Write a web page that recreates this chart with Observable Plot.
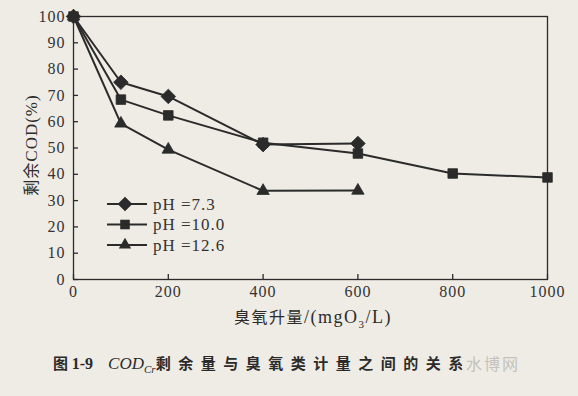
<!DOCTYPE html>
<html><head><meta charset="utf-8">
<script src="https://cdn.jsdelivr.net/npm/d3@7"></script>
<script src="https://cdn.jsdelivr.net/npm/@observablehq/plot@0.6"></script>
<style>
body{margin:0;background:#efece5;}
#wrap{position:relative;width:578px;height:396px;overflow:hidden;background:#efece5;color:#2b2b2b;}
#chart{position:absolute;left:0;top:0;}
#chart svg text{letter-spacing:1px;}
.ylab{position:absolute;left:30px;top:145px;transform:translate(-50%,-50%) rotate(-90deg);white-space:nowrap;font-size:16px;letter-spacing:1px;}
.xlab{position:absolute;left:313px;top:317px;transform:translate(-50%,-50%);white-space:nowrap;font-size:16px;}
.cjk{font-family:"Noto Sans CJK SC";}
.serif{font-family:"Liberation Serif";}
.caption{position:absolute;left:53px;top:352px;white-space:nowrap;font-size:15px;line-height:22px;}
.wm{position:absolute;left:466px;top:352px;font-family:"Noto Sans CJK SC";font-size:16px;color:#c4c2bd;letter-spacing:2px;line-height:22px;}
#legend{position:absolute;left:104px;top:193px;}
</style></head><body><div id="wrap"><div id="chart"></div></div>
<script>
// Data
const doseA = [0, 100, 200, 400, 600];
const codA  = [100, 75, 69.6, 51.3, 51.7];           // pH = 7.3
const doseB = [0, 100, 200, 400, 600, 800, 1000];
const codB  = [100, 68.4, 62.4, 52, 47.9, 40.3, 38.8]; // pH = 10.0
const doseC = [0, 100, 200, 400, 600];
const codC  = [100, 59.3, 49.4, 33.7, 33.8];          // pH = 12.6
const seriesNames = ["pH =7.3", "pH =10.0", "pH =12.6"];
const seriesSymbols = ["diamond2", "square", "triangle"];
const xTicks = [0, 200, 400, 600, 800, 1000];
const yTicks = [0, 10, 20, 30, 40, 50, 60, 70, 80, 90, 100];

const ink = "#2b2b2b";
const rows = (xs, ys, s) => xs.map((x, i) => ({dose: x, cod: ys[i], series: s}));
const A = rows(doseA, codA, seriesNames[0]);
const B = rows(doseB, codB, seriesNames[1]);
const C = rows(doseC, codC, seriesNames[2]);
const sizes = {diamond2: 6.6, square: 5.4, triangle: 4.6};

const marks = [
  Plot.frame({stroke: ink, strokeWidth: 1.3}),
  // inward tick marks
  Plot.axisX({ticks: xTicks, tickSize: 5, dy: -5, tickFormat: () => "", stroke: ink, strokeWidth: 1.3, label: null}),
  Plot.axisX({ticks: xTicks, tickSize: 0, tickPadding: 6, tickFormat: d => String(d), fill: "#333", label: null}),
  Plot.axisY({ticks: yTicks, tickSize: 5, dx: 5, tickFormat: () => "", stroke: ink, strokeWidth: 1.3, label: null}),
  Plot.axisY({ticks: yTicks, tickSize: 0, tickPadding: 8, tickFormat: d => String(d), fill: "#333", label: null})
];
[A, B, C].forEach((d, i) => {
  marks.push(Plot.line(d, {x: "dose", y: "cod", stroke: ink, strokeWidth: 2}));
  marks.push(Plot.dot(d, {x: "dose", y: "cod", symbol: seriesSymbols[i], r: sizes[seriesSymbols[i]], fill: ink, stroke: ink, strokeWidth: 0.8}));
});

const chart = Plot.plot({
  width: 578, height: 340,
  marginLeft: 73, marginRight: 31, marginTop: 16, marginBottom: 61,
  style: {fontFamily: "Liberation Serif", fontSize: "16px", background: "transparent", color: ink},
  x: {domain: [0, 1000], label: null},
  y: {domain: [0, 100], label: null},
  marks
});
document.getElementById("chart").appendChild(chart);

const wrap = document.getElementById("wrap");
wrap.insertAdjacentHTML("beforeend",
  `<div class="ylab"><span class="cjk">剩余</span><span class="serif" style="font-size:17px">COD(%)</span></div>
   <div class="xlab"><span class="cjk" style="letter-spacing:1.5px">臭氧升量</span><span class="serif" style="font-size:18px;letter-spacing:1.5px">/(mgO<sub style="font-size:11px">3</sub>/L)</span></div>
   <div class="caption"><span class="cjk" style="font-weight:700">图</span> <span class="serif" style="font-weight:700;font-size:16px">1-9</span>&nbsp;&nbsp;&nbsp;&nbsp;<i class="serif" style="font-size:17px">COD<sub style="font-size:11px">Cr</sub></i><span class="cjk" style="font-weight:700;letter-spacing:7.5px">剩余量与臭氧类计量之间的关系</span></div>
   <div class="wm">水博网</div>`);

// Legend
const leg = d3.create("svg").attr("width", 130).attr("height", 64).attr("id", "legend");
seriesNames.forEach((name, i) => {
  const g = leg.append("g").attr("transform", `translate(0,${11 + i * 20.5})`);
  g.append("line").attr("x1", 3).attr("x2", 43).attr("y1", 0).attr("y2", 0).attr("stroke", ink).attr("stroke-width", 2);
  const symMap = {diamond2: d3.symbolDiamond2, square: d3.symbolSquare, triangle: d3.symbolTriangle};
  const r = sizes[seriesSymbols[i]];
  g.append("path").attr("d", d3.symbol(symMap[seriesSymbols[i]], Math.PI * r * r)()).attr("transform", "translate(21,0)").attr("fill", ink);
  g.append("text").attr("x", 49).attr("y", 0).attr("dy", "0.35em").attr("font-family", "Liberation Serif").attr("font-size", 17).attr("letter-spacing", 1).attr("fill", "#333").text(name);
});
wrap.appendChild(leg.node());
</script></body></html>
